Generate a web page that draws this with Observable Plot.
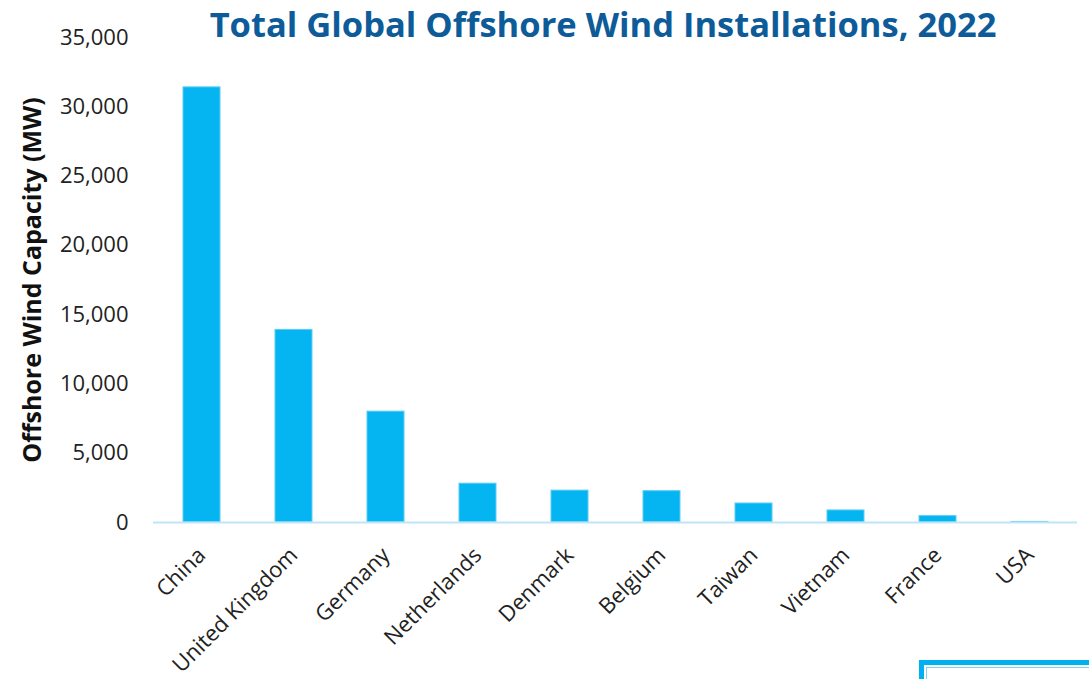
<!DOCTYPE html>
<html>
<head>
<meta charset="utf-8">
<script src="https://cdn.jsdelivr.net/npm/d3@7"></script>
<script src="https://cdn.jsdelivr.net/npm/@observablehq/plot@0.6"></script>
<style>
  html, body { margin: 0; padding: 0; background: #fff; }
  #wrap { position: relative; width: 1089px; height: 679px; overflow: hidden; font-family: "Open Sans", sans-serif; }
  #title { position: absolute; left: 0; width: 1206px; top: 0px; text-align: center; font-weight: 700; font-size: 34.5px; line-height: 48px; color: #0d5c99; white-space: nowrap; }
  #chart { position: absolute; left: 0; top: 0; }
  #chart svg { font-family: "Open Sans", sans-serif; overflow: visible; }
  #chart g[aria-label="y-axis tick label"] text { font-size: 22px; fill: #222; }
  #chart g[aria-label="x-axis tick label"] text { font-size: 22px; fill: #222; }
  #chart g[aria-label="y-axis label"] text { font-size: 25px; font-weight: 700; fill: #111; }
  #logo { position: absolute; left: 919px; top: 660px; width: 200px; height: 40px; border: 5px solid #00b0f0; box-sizing: border-box; }
  #logo2 { position: absolute; left: 926px; top: 667px; width: 200px; height: 40px; border: 1px solid #7fd3f3; box-sizing: border-box; }
</style>
</head>
<body>
<div id="wrap">
  <div id="chart"></div>
  <div id="title">Total Global Offshore Wind Installations, 2022</div>
  <div id="logo"></div>
  <div id="logo2"></div>
</div>
<script>
const countries = ["China", "United Kingdom", "Germany", "Netherlands", "Denmark", "Belgium", "Taiwan", "Vietnam", "France", "USA"];
const capacityMW = [31400, 13900, 8000, 2800, 2300, 2260, 1370, 870, 460, 42];
const yTicks = [0, 5000, 10000, 15000, 20000, 25000, 30000, 35000];

const data = countries.map((c, i) => ({country: c, value: capacityMW[i]}));

const chart = Plot.plot({
  width: 1089,
  height: 679,
  marginTop: 37,
  marginBottom: 157,
  marginLeft: 153,
  marginRight: 12,
  style: {fontFamily: "Open Sans, sans-serif", background: "transparent"},
  x: {domain: countries, paddingInner: 0.6, paddingOuter: 0.3},
  y: {domain: [0, 35000]},
  marks: [
    Plot.barY(data, {x: "country", y: "value", fill: "#05b5f1", stroke: "#5ccbf5", strokeWidth: 1}),
    Plot.ruleY([0], {stroke: "#bfe6f7", strokeWidth: 2}),
    Plot.axisY(yTicks, {tickSize: 0, tickPadding: 25, tickFormat: d3.format(","),
      label: "Offshore Wind Capacity (MW)", labelAnchor: "center", labelArrow: "none", labelOffset: 130}),
    Plot.axisX({tickSize: 0, tickPadding: 29, tickRotate: -45, label: null})
  ]
});
document.getElementById("chart").appendChild(chart);
</script>
</body>
</html>
